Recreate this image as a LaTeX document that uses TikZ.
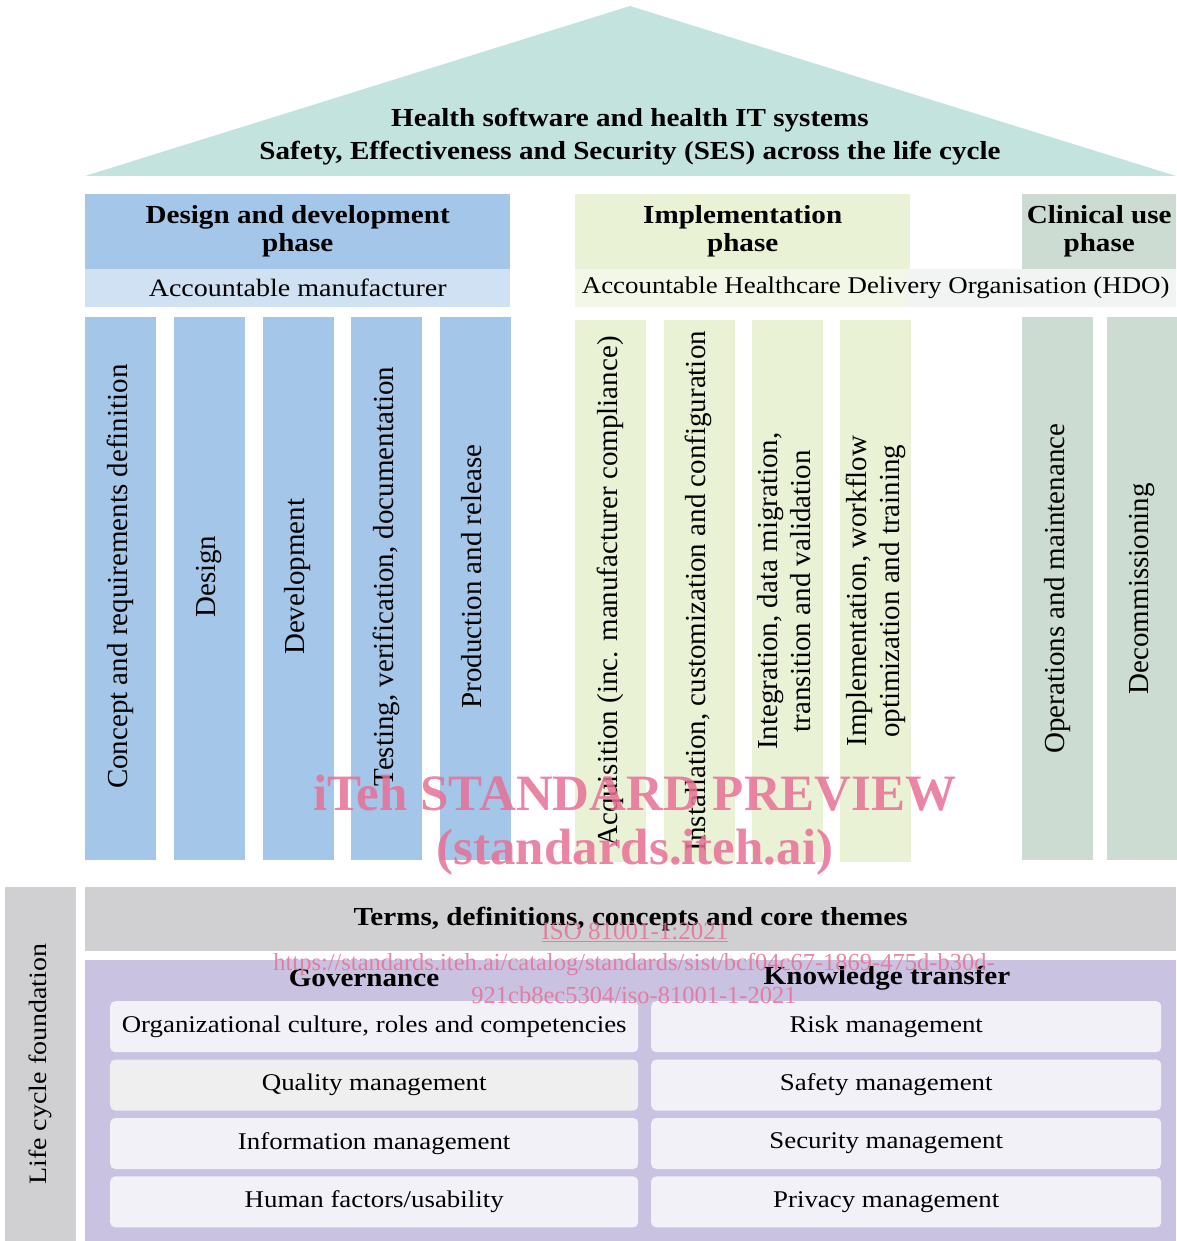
\documentclass[tikz,border=0pt]{standalone}
\usepackage{fontspec}
\setmainfont{Liberation Serif}
\newfontfamily\cambria{Liberation Serif}[FakeStretch=1.12]
\usetikzlibrary{positioning}

\definecolor{roofc}{RGB}{194,227,222}
\definecolor{designc}{RGB}{164,198,232}
\definecolor{manufc}{RGB}{207,225,243}
\definecolor{implc}{RGB}{234,242,213}
\definecolor{hdoa}{RGB}{243,247,232}
\definecolor{hdob}{RGB}{241,244,242}
\definecolor{clinc}{RGB}{205,220,210}
\definecolor{greyc}{RGB}{208,208,210}
\definecolor{purc}{RGB}{201,195,225}
\definecolor{itemc}{RGB}{242,241,248}
\definecolor{qualc}{RGB}{239,239,239}
\definecolor{wmc}{RGB}{232,112,150}

\newcommand{\pilltext}[1]{\rotatebox{90}{\begin{tabular}{@{}c@{}}#1\end{tabular}}}
\newcommand{\dpilltext}[1]{\rotatebox{90}{\hspace*{24pt}\begin{tabular}{@{}c@{}}#1\end{tabular}}}

\begin{document}
\begin{tikzpicture}[x=1pt,y=-1pt,node distance=17pt]
  \tikzstyle{box}=[rectangle,inner sep=0pt,anchor=north west]
  \tikzstyle{head}=[box,align=center,minimum height=75pt,font=\cambria\bfseries\fontsize{26}{28}\selectfont]
  \tikzstyle{sub}=[box,minimum height=38pt,font=\cambria\fontsize{25}{28}\selectfont]
  \tikzstyle{pil}=[box,minimum width=71pt,font=\fontsize{29}{33}\selectfont]
  \tikzstyle{item}=[box,rounded corners=5pt,fill=itemc,minimum height=51pt,font=\cambria\fontsize{24}{28}\selectfont]
  \tikzstyle{btext}=[font=\cambria\bfseries\fontsize{26}{28}\selectfont]
  \tikzstyle{wm}=[text=wmc,text opacity=0.85]
  \useasboundingbox (0,0) rectangle (1176,1241);

  % roof
  \fill[roofc] (630,6) -- (1176,176) -- (85,176) -- cycle;
  \node[align=center,font=\cambria\bfseries\fontsize{26}{33}\selectfont] (roof) at (630,137)
    {Health software and health IT systems\\Safety, Effectiveness and Security (SES) across the life cycle};

  % phases
  \node[head,fill=designc,minimum width=425pt] (dhead) at (85,194) {Design and development\\phase};
  \node[head,fill=implc,minimum width=335pt] (ihead) at (575,194) {Implementation\\phase};
  \node[head,fill=clinc,minimum width=154pt] (chead) at (1022,194) {Clinical use\\phase};
  \node[sub,fill=manufc,minimum width=425pt] (manuf) at (85,269) {Accountable manufacturer};
  \fill[hdoa] (575,269) rectangle (905,307);
  \fill[hdob] (905,269) rectangle (1176,307);
  \node[sub,minimum width=601pt,font=\cambria\fontsize{24}{28}\selectfont] (hdo) at (575,269)
    {Accountable Healthcare Delivery Organisation (HDO)};

  % pillars
  \node[pil,fill=designc,minimum height=543pt] (d1) at (85,317) {\dpilltext{Concept and requirements definition}};
  \node[pil,fill=designc,minimum height=543pt,right=17.25pt of d1] (d2) {\dpilltext{Design}};
  \node[pil,fill=designc,minimum height=543pt,right=17.25pt of d2] (d3) {\dpilltext{Development}};
  \node[pil,fill=designc,minimum height=543pt,right=17.25pt of d3] (d4) {\dpilltext{Testing, verification, documentation}};
  \node[pil,fill=designc,minimum height=543pt,right=17.25pt of d4] (d5) {\dpilltext{Production and release}};
  \node[pil,fill=implc,minimum height=542pt] (i1) at (575,320) {\pilltext{Acquisition (inc. manufacturer compliance)}};
  \node[pil,fill=implc,minimum height=542pt,right=of i1] (i2) {\pilltext{Installation, customization and configuration}};
  \node[pil,fill=implc,minimum height=542pt,right=of i2] (i3) {\pilltext{Integration, data migration,\\transition and validation}};
  \node[pil,fill=implc,minimum height=542pt,right=of i3] (i4) {\pilltext{Implementation, workflow\\optimization and training}};
  \node[pil,fill=clinc,minimum height=543pt] (c1) at (1022,317) {\pilltext{Operations and maintenance}};
  \node[pil,fill=clinc,minimum height=543pt,minimum width=70pt,right=13pt of c1] (c2) {\pilltext{Decommissioning}};

  % foundation
  \node[box,fill=greyc,minimum width=71pt,minimum height=354pt,font=\cambria\fontsize{25}{28}\selectfont] (lcf) at (5,887)
    {\rotatebox{90}{Life cycle foundation}};
  \node[box,btext,fill=greyc,minimum width=1091pt,minimum height=64pt] (terms) at (85,887)
    {Terms, definitions, concepts and core themes};
  \node[box,fill=purc,minimum width=1091pt,minimum height=281pt] (found) at (85,960) {};
  \node[btext] (gov) at (364,978) {Governance};
  \node[btext] (know) at (887,978) {Knowledge transfer};

  \node[item,minimum width=528pt] (g1) at (110,1001) {Organizational culture, roles and competencies};
  \node[item,minimum width=528pt,fill=qualc,below=7pt of g1] (g2) {Quality management};
  \node[item,minimum width=528pt,below=7pt of g2] (g3) {Information management};
  \node[item,minimum width=528pt,below=7pt of g3] (g4) {Human factors/usability};

  \node[item,minimum width=510pt] (k1) at (651,1001) {};
  \node[item,minimum width=510pt,below=7pt of k1] (k2) {};
  \node[item,minimum width=510pt,below=7pt of k2] (k3) {};
  \node[item,minimum width=510pt,below=7pt of k3] (k4) {};
  \node[font=\cambria\fontsize{24}{28}\selectfont] at ([xshift=-20pt]k1.center) {Risk management};
  \node[font=\cambria\fontsize{24}{28}\selectfont] at ([xshift=-20pt]k2.center) {Safety management};
  \node[font=\cambria\fontsize{24}{28}\selectfont] at ([xshift=-20pt]k3.center) {Security management};
  \node[font=\cambria\fontsize{24}{28}\selectfont] at ([xshift=-20pt]k4.center) {Privacy management};

  % watermark
  \node[wm,font=\bfseries\fontsize{51}{55}\selectfont] (wm1) at (635,793) {iTeh STANDARD PREVIEW};
  \node[wm,font=\bfseries\fontsize{51}{55}\selectfont] (wm2) at (635,852) {(standards.iteh.ai)};
  \node[wm,font=\fontsize{25}{28}\selectfont] (wm3) at (635,932) {\underline{ISO 81001-1:2021}};
  \node[wm,font=\fontsize{24.5}{28}\selectfont] (wm4) at (634,965) {https://standards.iteh.ai/catalog/standards/sist/bcf04c67-1869-475d-b30d-};
  \node[wm,font=\fontsize{24.5}{28}\selectfont] (wm5) at (634,995) {921cb8ec5304/iso-81001-1-2021};
\end{tikzpicture}
\end{document}
